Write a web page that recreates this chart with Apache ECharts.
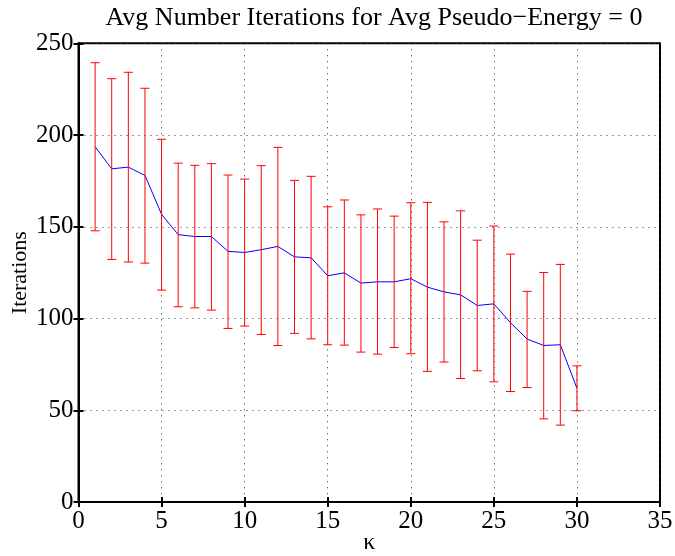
<!DOCTYPE html>
<html><head><meta charset="utf-8">
<script src="https://cdn.jsdelivr.net/npm/echarts@6/dist/echarts.min.js"></script>
<style>html,body{margin:0;padding:0;background:#fff}#c{width:675px;height:556px}</style>
</head><body><div id="c"></div>
<script>
const kappa = [1,2,3,4,5,6,7,8,9,10,11,12,13,14,15,16,17,18,19,20,21,22,23,24,25,26,27,28,29,30];
const meanIter = [193.6,181.6,182.5,178.0,156.8,145.7,144.7,144.7,136.6,136.0,137.5,139.3,133.6,133.1,123.3,124.9,119.3,120.0,120.0,121.7,117.1,114.5,112.9,107.1,108.0,97.7,88.8,85.3,85.7,62.0];
const upperIter = [239.4,230.7,234.2,225.5,197.7,184.7,183.5,184.4,178.2,176.0,183.3,193.3,175.3,177.5,160.9,164.6,156.5,159.7,155.8,163.1,163.3,152.7,158.7,142.7,150.4,135.1,114.8,125.1,129.5,74.2];
const lowerIter = [147.8,132.2,130.8,130.2,115.5,106.4,105.8,104.6,94.6,95.9,91.3,85.3,91.9,88.9,85.7,85.5,81.7,80.6,84.2,80.8,71.2,76.3,67.3,71.5,65.5,60.2,62.4,45.3,41.9,49.7];
const xTicks = [0,5,10,15,20,25,30,35];
const yTicks = [0,50,100,150,200,250];

const font = 'Liberation Serif';
const chart = echarts.init(document.getElementById('c'), null, {renderer:'canvas'});
const grid = {left:78.5, right:15, top:43.3, bottom:54, containLabel:false, outerBoundsMode:'none',
  show:true, borderColor:'#000', borderWidth:2, backgroundColor:'#fff'};
const gridLine = {show:true, lineStyle:{color:'#333', type:[1,5], width:1}};
chart.setOption({
  animation:false,
  title:{text:'Avg Number Iterations for Avg Pseudo\u2212Energy = 0', left:369, textAlign:'center', top:0,
    textStyle:{fontFamily:font, fontSize:26, fontWeight:'normal', color:'#000'}},
  grid:grid,
  xAxis:[{type:'value', min:xTicks[0], max:xTicks[xTicks.length-1], interval:5,
    name:'\u03ba', nameLocation:'middle', nameGap:29, nameMoveOverlap:false,
    nameTextStyle:{fontFamily:font, fontSize:24, color:'#000'},
    axisLine:{show:true, lineStyle:{color:'#000', width:2}},
    axisTick:{show:true, inside:true, length:5, lineStyle:{color:'#000', width:2}},
    axisLabel:{fontFamily:font, fontSize:25, color:'#000', margin:7},
    splitLine:gridLine},
   {type:'value', position:'top', min:0, max:35, interval:5,
    axisLine:{show:true, lineStyle:{color:'#000', width:2}},
    axisTick:{show:true, inside:true, length:5, lineStyle:{color:'#000', width:2}},
    axisLabel:{show:false}, splitLine:{show:false}}],
  yAxis:[{type:'value', min:yTicks[0], max:yTicks[yTicks.length-1], interval:50,
    name:'Iterations', nameLocation:'middle', nameGap:47, nameMoveOverlap:false,
    nameTextStyle:{fontFamily:font, fontSize:22, color:'#000'},
    axisLine:{show:true, lineStyle:{color:'#000', width:2}},
    axisTick:{show:true, inside:true, length:5, lineStyle:{color:'#000', width:2}},
    axisLabel:{fontFamily:font, fontSize:25, color:'#000', margin:5},
    splitLine:gridLine},
   {type:'value', position:'right', min:0, max:250, interval:50,
    axisLine:{show:true, lineStyle:{color:'#000', width:2}},
    axisTick:{show:true, inside:true, length:5, lineStyle:{color:'#000', width:2}},
    axisLabel:{show:false}, splitLine:{show:false}}],
  series:[
    {type:'line', data:kappa.map((k,i)=>[k, meanIter[i]]), showSymbol:false, symbol:'none',
     lineStyle:{color:'#0000ff', width:1}, z:3},
    {type:'custom', z:4, data:kappa.map((k,i)=>[k, lowerIter[i], upperIter[i]]),
     renderItem:function(params, api){
       const x = api.value(0);
       const lo = api.coord([x, api.value(1)]);
       const hi = api.coord([x, api.value(2)]);
       const hw = 4.5;
       const st = {stroke:'#ff0000', lineWidth:1, fill:null};
       return {type:'group', children:[
         {type:'line', shape:{x1:lo[0], y1:lo[1], x2:hi[0], y2:hi[1]}, style:st},
         {type:'line', shape:{x1:hi[0]-hw, y1:hi[1], x2:hi[0]+hw, y2:hi[1]}, style:st},
         {type:'line', shape:{x1:lo[0]-hw, y1:lo[1], x2:lo[0]+hw, y2:lo[1]}, style:st}
       ]};
     }}
  ]
});
</script></body></html>
